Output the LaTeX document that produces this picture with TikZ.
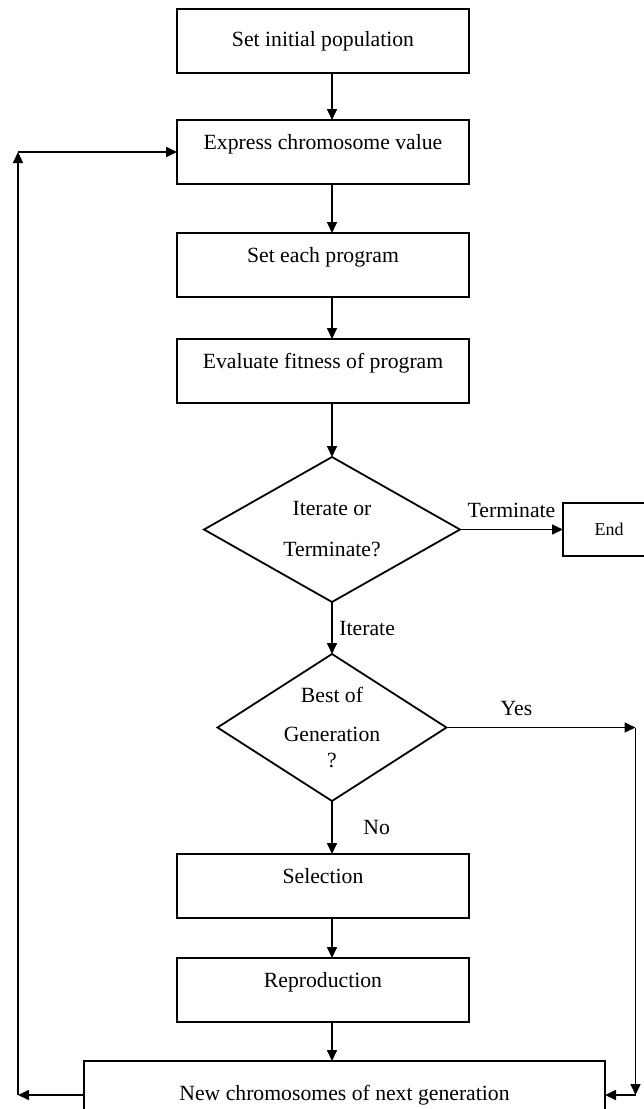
\documentclass[tikz,border=0pt]{standalone}
\usepackage{fontspec}
\setmainfont{Liberation Serif}
\usetikzlibrary{positioning, arrows.meta, shapes.geometric}

\begin{document}
\begin{tikzpicture}[
  font=\fontsize{10.85}{13}\selectfont,
  box/.style={draw, line width=0.9pt, minimum width=146pt, minimum height=32pt,
    inner sep=0pt, outer sep=0pt, text height=7.5pt, text depth=10.5pt},
  flat/.style={text height=, text depth=},
  decision/.style={draw, diamond, line width=0.9pt, inner sep=-1pt, outer sep=0pt,
    align=center},
  arrow/.style={-{Triangle[length=5.5pt, width=5pt]}, line width=0.8pt},
]
  \useasboundingbox (0,0) rectangle (321.5pt,-554.5pt);

  \node[box, text depth=2.5pt] (init) at (161.5pt,-20.5pt) {Set initial population};
  \node[box, below=23.5pt of init]   (express) {Express chromosome value};
  \node[box, below=24.5pt of express] (each)   {Set each program};
  \node[box, below=21pt of each]     (fitness) {Evaluate fitness of program};
  \node[decision, aspect=1.77, minimum width=128pt, minimum height=72.5pt,
    below=27pt of fitness, xshift=4.5pt] (decide) {Iterate or\\[7.5pt]Terminate?};
  \node[box, flat, minimum width=46pt, minimum height=26.5pt,
    font=\fontsize{9}{11}\selectfont, right=51.5pt of decide] (finish) {End};
  \node[decision, aspect=1.56, minimum width=114.5pt, minimum height=73.5pt,
    below=26pt of decide] (best) {Best of\\[6.5pt]Generation\\?};
  \node[box, below=26.5pt of best, xshift=-4.5pt] (select) {Selection};
  \node[box, below=20pt of select]   (repro)   {Reproduction};
  \node[box, flat, minimum width=260.5pt, minimum height=34pt,
    below=19.5pt of repro, xshift=10.75pt] (newgen) {New chromosomes of next generation};

  \coordinate[right=94.5pt of best.east] (yesturn);
  \coordinate (yesdown) at (yesturn |- newgen.east);
  \coordinate[left=33pt of newgen.west] (loopturn);
  \coordinate (loopup) at (loopturn |- express.west);

  \draw[arrow] (init.south -| decide.north) -- (express.north -| decide.north);
  \draw[arrow] (express.south -| decide.north) -- (each.north -| decide.north);
  \draw[arrow] (each.south -| decide.north) -- (fitness.north -| decide.north);
  \draw[arrow] (fitness.south -| decide.north) -- (decide.north);
  \draw[arrow] (decide.east) -- node[above=2pt] {Terminate} (finish.west);
  \draw[arrow] (decide.south) -- node[right] {Iterate} (best.north);
  \draw[arrow] (best.east) -- node[above=2pt, pos=0.37] {Yes} (yesturn);
  \draw[arrow] (yesturn) -- (yesdown);
  \draw[arrow] (yesdown) -- (newgen.east);
  \draw[arrow] (best.south) -- node[right=12pt] {No} (select.north -| best.south);
  \draw[arrow] (select.south -| best.south) -- (repro.north -| best.south);
  \draw[arrow] (repro.south -| best.south) -- (newgen.north -| best.south);
  \draw[arrow] (newgen.west) -- (loopturn);
  \draw[arrow] (loopturn) -- (loopup);
  \draw[arrow] (loopup) -- (express.west);
\end{tikzpicture}
\end{document}
